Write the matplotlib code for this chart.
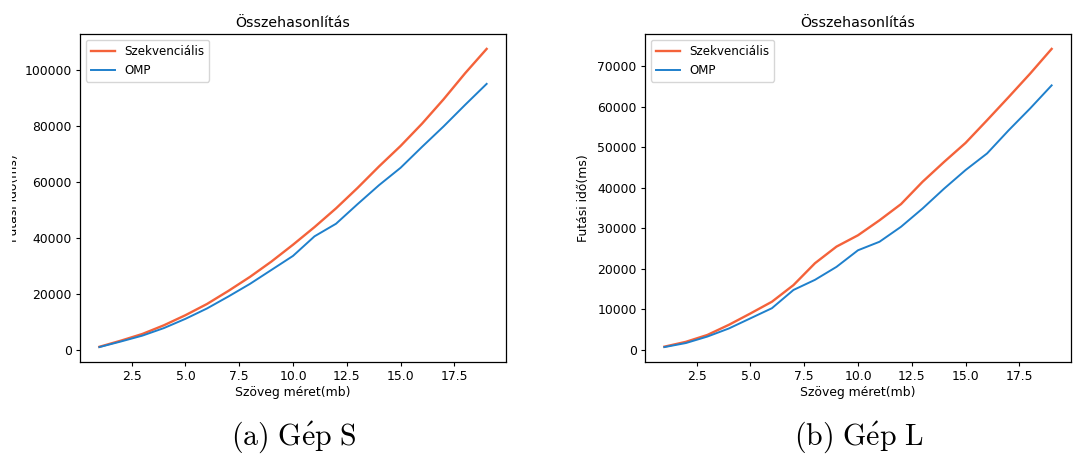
import matplotlib

matplotlib.use("Agg")
import matplotlib.pyplot as plt
from matplotlib.patches import Rectangle

# text size in mb
sizes = list(range(1, 20))

# machine S (ms)
seq_s = [1000, 3200, 5600, 8700, 12300, 16300, 21000, 26000, 31500, 37500,
         43800, 50500, 57800, 65500, 72800, 80800, 89500, 98800, 107500]
omp_s = [900, 2900, 5000, 7700, 11000, 14700, 19000, 23500, 28500, 33500,
         40500, 45000, 52000, 58800, 65000, 72500, 79800, 87500, 95000]

# machine L (ms)
seq_l = [800, 2000, 3700, 6200, 9000, 11900, 16000, 21400, 25500, 28300,
         32000, 36000, 41500, 46400, 51100, 56700, 62400, 68200, 74300]
omp_l = [700, 1700, 3300, 5300, 7800, 10300, 14800, 17300, 20500, 24600,
         26700, 30400, 34900, 39800, 44400, 48500, 54200, 59600, 65300]

captions = [r"$\mathrm{(a)\ G\acute{e}p\ S}$", r"$\mathrm{(b)\ G\acute{e}p\ L}$"]
RED = "#f4623a"
BLUE = "#1f80cc"
FS = 8.9

plt.rcParams["mathtext.fontset"] = "cm"

fig = plt.figure(figsize=(10.83, 4.57), dpi=100)
W, H = 1083, 457
boxes = [(80, 34, 426, 328), (645, 34, 426, 328)]

for i, ((x0, y0, w, h), seq, omp, cap) in enumerate(
        zip(boxes, [seq_s, seq_l], [omp_s, omp_l], captions)):
    ax = fig.add_axes([x0 / W, 1 - (y0 + h) / H, w / W, h / H])
    ax.plot(sizes, seq, color=RED, lw=1.7, label="Szekvenciális")
    ax.plot(sizes, omp, color=BLUE, lw=1.4, label="OMP")
    ax.set_title("Összehasonlítás", fontsize=10.2, pad=5)
    ax.set_xlabel("Szöveg méret(mb)", fontsize=FS, labelpad=2)
    ax.set_ylabel("Futási idő(ms)", fontsize=FS, labelpad=5 if i else 3)
    ax.tick_params(labelsize=FS, length=3, width=0.8, pad=3)
    ax.set_xticks([2.5, 5.0, 7.5, 10.0, 12.5, 15.0, 17.5])
    ax.legend(loc="upper left", fontsize=8.6, handlelength=2.0)
    for s in ax.spines.values():
        s.set_linewidth(0.9)
    fig.text((x0 + w / 2 + 1) / W, 1 - 437 / H, cap, fontsize=21.5,
             ha="center", va="center")

# left panel was cropped in the source: hide the outer part of its y label
fig.patches.append(Rectangle((0, 0), 12 / W, 1, transform=fig.transFigure,
                             facecolor="white", edgecolor="none", zorder=10))

fig.savefig("out.png", dpi=100)
